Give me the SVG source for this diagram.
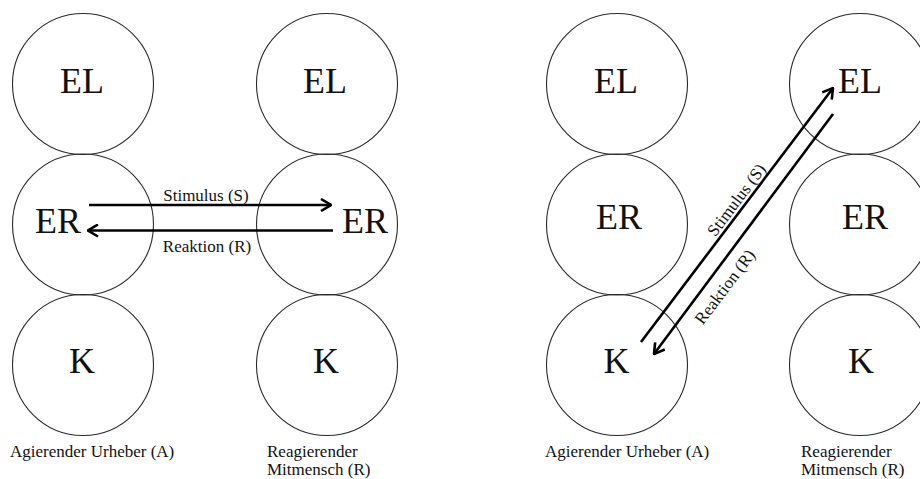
<svg xmlns="http://www.w3.org/2000/svg" width="920" height="479" viewBox="0 0 920 479">
  <style>
    .ring { fill: none; stroke: #2a2a2a; stroke-width: 1.1; }
    .big { font-family: "Liberation Serif", "Times New Roman", serif; font-size: 36px; fill: #111; text-anchor: middle; }
    .small { font-family: "Liberation Serif", "Times New Roman", serif; font-size: 17px; fill: #111; }
    .mid { text-anchor: middle; }
    .arrow { fill: none; stroke: #000; stroke-width: 2.6; marker-end: url(#head); }
  </style>
  <defs>
    <marker id="head" viewBox="0 0 12 14" refX="11" refY="7" markerWidth="12" markerHeight="14" markerUnits="userSpaceOnUse" orient="auto">
      <path d="M1,1 L11,7 L1,13" fill="none" stroke="#000" stroke-width="2.6"/>
    </marker>
  </defs>
  <rect width="920" height="479" fill="#fff"/>

  <!-- Left panel: horizontal exchange between the ER levels -->
  <g id="a1-el"><circle class="ring" cx="83" cy="84" r="70.5"/><text class="big" x="82" y="93">EL</text></g>
  <g id="a1-er"><circle class="ring" cx="83" cy="224.5" r="70.5"/><text class="big" x="58" y="233">ER</text></g>
  <g id="a1-k"><circle class="ring" cx="83" cy="365" r="70.5"/><text class="big" x="82" y="373">K</text></g>
  <g id="a1-label"><text class="small" x="10" y="457">Agierender Urheber (A)</text></g>

  <g id="r1-el"><circle class="ring" cx="327" cy="84" r="70.5"/><text class="big" x="325" y="93">EL</text></g>
  <g id="r1-er"><circle class="ring" cx="327" cy="224.5" r="70.5"/><text class="big" x="365" y="233">ER</text></g>
  <g id="r1-k"><circle class="ring" cx="327" cy="365" r="70.5"/><text class="big" x="326" y="373">K</text></g>
  <g id="r1-label"><text class="small" x="267" y="457">Reagierender</text><text class="small" x="267" y="475">Mitmensch (R)</text></g>

  <!-- Right panel: diagonal exchange from K to EL -->
  <g id="a2-el"><circle class="ring" cx="617" cy="84" r="70.5"/><text class="big" x="616" y="93">EL</text></g>
  <g id="a2-er"><circle class="ring" cx="617" cy="224.5" r="70.5"/><text class="big" x="619" y="229">ER</text></g>
  <g id="a2-k"><circle class="ring" cx="617" cy="365" r="70.5"/><text class="big" x="616.5" y="373">K</text></g>
  <g id="a2-label"><text class="small" x="545" y="457">Agierender Urheber (A)</text></g>

  <g id="r2-el"><circle class="ring" cx="860" cy="84" r="70.5"/><text class="big" x="860" y="93">EL</text></g>
  <g id="r2-er"><circle class="ring" cx="860" cy="224.5" r="70.5"/><text class="big" x="865" y="229">ER</text></g>
  <g id="r2-k"><circle class="ring" cx="860" cy="365" r="70.5"/><text class="big" x="861" y="373">K</text></g>
  <g id="r2-label"><text class="small" x="801" y="457">Reagierender</text><text class="small" x="801" y="475">Mitmensch (R)</text></g>

  <g id="connectors">
    <line class="arrow" x1="89" y1="205" x2="331" y2="205"/>
    <text class="small mid" x="206" y="201">Stimulus (S)</text>
    <line class="arrow" x1="333" y1="230.5" x2="88" y2="230.5"/>
    <text class="small mid" x="207" y="252">Reaktion (R)</text>

    <line class="arrow" x1="641" y1="342" x2="833" y2="88"/>
    <text class="small mid" transform="translate(741 203.3) rotate(-53)">Stimulus (S)</text>
    <line class="arrow" x1="833" y1="114" x2="654" y2="354"/>
    <text class="small mid" transform="translate(729.4 290.3) rotate(-53)">Reaktion (R)</text>
  </g>
</svg>
